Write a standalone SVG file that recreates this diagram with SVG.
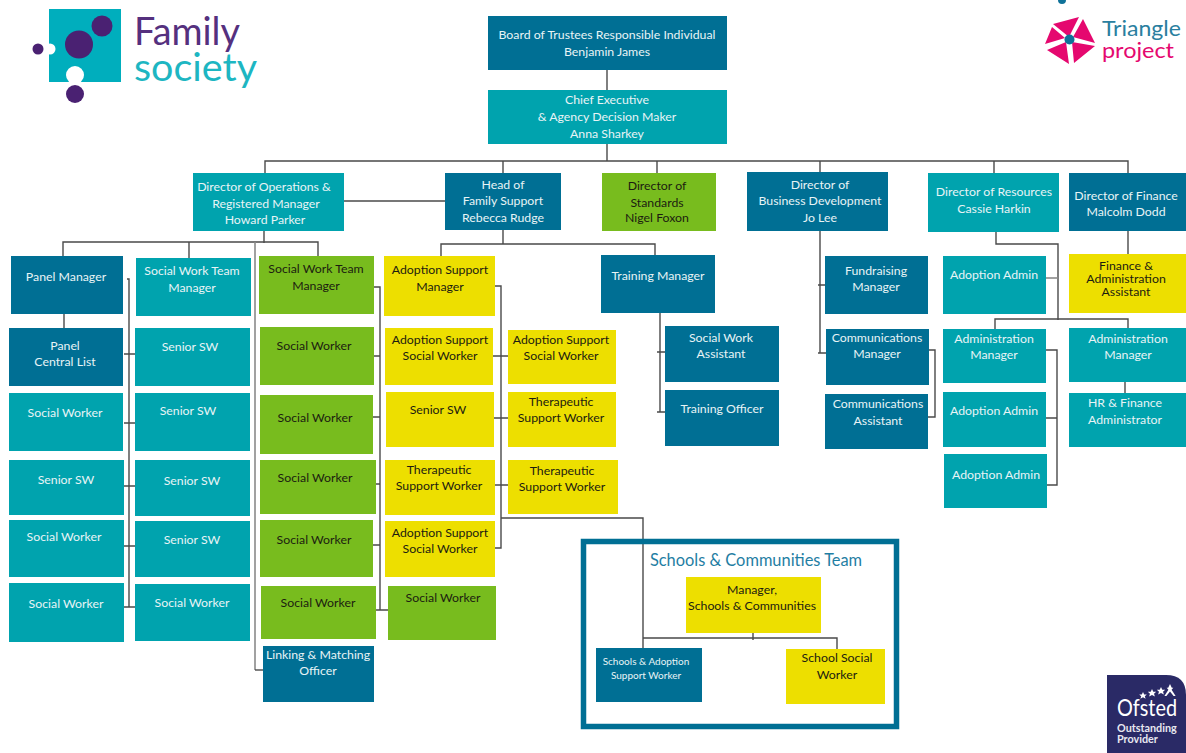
<svg xmlns="http://www.w3.org/2000/svg" width="1186" height="753" viewBox="0 0 1186 753">
<style>
text{font-family:Lato,"Open Sans","Liberation Sans",sans-serif;font-size:12.3px;text-anchor:middle;transform:translateY(-.5px)}
.d rect{fill:#006f94}.t rect{fill:#00a3ae}.g rect{fill:#78bc1e}.y rect{fill:#eddf00}
.d text,.t text{fill:#e8f4f6}.g text,.y text{fill:#1c1c10}
#connectors path{fill:none;stroke:#4a4a4a;stroke-width:1.4}
#connectors path.l{stroke:#8a8a8a;stroke-width:1.6}
</style>
<rect width="1186" height="753" fill="#fff"/>
<g id="family-logo">
<rect x="49" y="9" width="72" height="73" fill="#00aebd"/>
<circle cx="50" cy="49" r="5.5" fill="#fff"/><circle cx="38" cy="49" r="5.5" fill="#4a2172"/>
<circle cx="79" cy="44.500" r="14" fill="#4a2172"/><circle cx="102" cy="26" r="10.500" fill="#4a2172"/>
<circle cx="75" cy="75" r="9" fill="#fff"/><circle cx="75" cy="94" r="9" fill="#4a2172"/>
<text x="134" y="45" textLength="106" lengthAdjust="spacingAndGlyphs" style="font-size:38px;text-anchor:start;fill:#55307e">Family</text>
<text x="134" y="81" textLength="123" lengthAdjust="spacingAndGlyphs" style="font-size:38px;text-anchor:start;fill:#1db6c2">society</text>
</g>
<g id="triangle-logo">
<circle cx="1062" cy="0" r="4" fill="#0f7299"/>
<path d="M1053 24L1079 17L1069 37ZM1083 19L1095 43L1073 37ZM1095 46L1074 63L1072 42ZM1069 64L1047 50L1066 42ZM1045 44L1052 27L1065 38Z" fill="#e5086f"/>
<circle cx="1069.500" cy="39.500" r="5" fill="#0f7299"/>
<text x="1102" y="36" textLength="79" lengthAdjust="spacingAndGlyphs" style="font-size:22px;text-anchor:start;fill:#2a7fa0">Triangle</text>
<text x="1102" y="58" textLength="72" lengthAdjust="spacingAndGlyphs" style="font-size:22px;text-anchor:start;fill:#e5086f">project</text>
</g>
<g id="ofsted-logo">
<path d="M1107 675H1166Q1186 675 1186 695V753H1107Z" fill="#2a2a66"/>
<path d="M1143 692l1.200 2.400h2.600l-2 1.800l.8 2.600l-2.600-1.500l-2.600 1.500l.8-2.600l-2-1.800h2.600ZM1152 689l1.300 2.700h2.900l-2.200 2l.9 2.900l-2.900-1.700l-2.900 1.700l.9-2.900l-2.200-2h2.900ZM1161 687l1.300 2.700h2.900l-2.200 2l.9 2.900l-2.900-1.700l-2.900 1.700l.9-2.900l-2.200-2h2.900ZM1170 684l1.800 3.800h1.500l-1.700 2l4 6.200h-2l-3.600-4.600l-3.600 4.600h-2l4-6.200l-1.700-2h1.500Z" fill="#fff"/>
<text x="1117" y="716" textLength="60" lengthAdjust="spacingAndGlyphs" style="font-size:24px;text-anchor:start;fill:#fff">Ofsted</text>
<text x="1117" y="732" style="font-size:10.800px;font-weight:700;text-anchor:start;fill:#e8e8f0">Outstanding</text>
<text x="1117" y="743" style="font-size:10.800px;font-weight:700;text-anchor:start;fill:#e8e8f0">Provider</text>
</g>
<g id="connectors">
<path d="M607 70V90M607 144V161M265 173V161H1128V173M503 161V173M657 161V173M820 161V172M994 161V173"/>
<path d="M344 201H445"/>
<path d="M264 231V243M63 256V242H318V256M189 242V258M64 314V328"/>
<path class="l" d="M255 242V670"/><path d="M255 670H263"/>
<path d="M127 279H129V607M124 354H135M124 423H135M124 486H135M124 546H135M124 607H135"/>
<path d="M374 287H380V610M374 356H380M373 417H380M376 484H380M373 545H380M376 610H388"/>
<path d="M495 286H501V548H495M493 356H508M494 418H508M495 485H508"/>
<path d="M501 518H643V648M643 638H837V649M753 633V640"/>
<path d="M503 230V244M441 256V244H655V255M660 313V412M657 352H665M657 412H665"/>
<path d="M820 231V353M818 285H825M818 353H826M929 350H935V417H928"/>
<path d="M996 232V244H1058V320M995 329V319H1128V328"/><path class="l" d="M1046 278H1058"/>
<path d="M1046 350H1057V485H1047M1046 418H1057M1125 382V393M1128 231V254"/>
</g>
<g id="schools-team">
<rect x="583.500" y="541.500" width="313" height="185" fill="none" stroke="#006f94" stroke-width="5.500"/>
<text x="756" y="566" style="font-size:16.400px;fill:#1f7ea3">Schools &amp; Communities Team</text>
</g>
<g id="board" class="d"><rect x="488" y="16" width="239" height="54"/><text x="607" y="39">Board of Trustees Responsible Individual</text><text x="607" y="56">Benjamin James</text></g>
<g id="ceo" class="t"><rect x="488" y="90" width="239" height="54"/><text x="607" y="104">Chief Executive</text><text x="607" y="121">&amp; Agency Decision Maker</text><text x="607" y="138">Anna Sharkey</text></g>
<g id="dir-ops" class="t"><rect x="193" y="173" width="151" height="58"/><text x="264" y="191">Director of Operations &amp;</text><text x="266" y="208">Registered Manager</text><text x="265" y="224">Howard Parker</text></g>
<g id="head-fs" class="d"><rect x="445" y="173" width="116" height="57"/><text x="503" y="189">Head of</text><text x="503" y="205">Family Support</text><text x="503" y="222">Rebecca Rudge</text></g>
<g id="dir-standards" class="g"><rect x="602" y="173" width="114" height="58"/><text x="657" y="190">Director of</text><text x="657" y="207">Standards</text><text x="657" y="222">Nigel Foxon</text></g>
<g id="dir-bus" class="d"><rect x="747" y="172" width="141" height="59"/><text x="820" y="189">Director of</text><text x="820" y="205">Business Development</text><text x="820" y="222">Jo Lee</text></g>
<g id="dir-res" class="t"><rect x="928" y="173" width="131" height="59"/><text x="994" y="196">Director of Resources</text><text x="994" y="213">Cassie Harkin</text></g>
<g id="dir-fin" class="d"><rect x="1069" y="173" width="117" height="58"/><text x="1126" y="200">Director of Finance</text><text x="1126" y="216">Malcolm Dodd</text></g>
<g id="panel-mgr" class="d"><rect x="11" y="256" width="112" height="58"/><text x="66" y="281">Panel Manager</text></g>
<g id="panel-list" class="d"><rect x="9" y="328" width="114" height="58"/><text x="65" y="350">Panel</text><text x="65" y="366">Central List</text></g>
<g id="sw-a1" class="t"><rect x="9" y="393" width="114" height="58"/><text x="65" y="417">Social Worker</text></g>
<g id="sw-a2" class="t"><rect x="9" y="460" width="115" height="55"/><text x="66" y="484">Senior SW</text></g>
<g id="sw-a3" class="t"><rect x="9" y="520" width="115" height="57"/><text x="64" y="541">Social Worker</text></g>
<g id="sw-a4" class="t"><rect x="9" y="583" width="115" height="59"/><text x="66" y="608">Social Worker</text></g>
<g id="swtm-b" class="t"><rect x="136" y="258" width="115" height="58"/><text x="192" y="275">Social Work Team</text><text x="192" y="292">Manager</text></g>
<g id="sw-b1" class="t"><rect x="135" y="328" width="115" height="58"/><text x="190" y="351">Senior SW</text></g>
<g id="sw-b2" class="t"><rect x="135" y="393" width="115" height="58"/><text x="188" y="415">Senior SW</text></g>
<g id="sw-b3" class="t"><rect x="135" y="460" width="115" height="56"/><text x="192" y="485">Senior SW</text></g>
<g id="sw-b4" class="t"><rect x="135" y="521" width="115" height="56"/><text x="192" y="544">Senior SW</text></g>
<g id="sw-b5" class="t"><rect x="135" y="584" width="115" height="57"/><text x="192" y="607">Social Worker</text></g>
<g id="swtm-c" class="g"><rect x="259" y="256" width="115" height="58"/><text x="316" y="273">Social Work Team</text><text x="316" y="290">Manager</text></g>
<g id="sw-c1" class="g"><rect x="260" y="327" width="114" height="58"/><text x="314" y="350">Social Worker</text></g>
<g id="sw-c2" class="g"><rect x="260" y="395" width="113" height="59"/><text x="315" y="422">Social Worker</text></g>
<g id="sw-c3" class="g"><rect x="260" y="460" width="116" height="54"/><text x="315" y="482">Social Worker</text></g>
<g id="sw-c4" class="g"><rect x="260" y="520" width="113" height="57"/><text x="314" y="544">Social Worker</text></g>
<g id="sw-c5" class="g"><rect x="261" y="586" width="115" height="53"/><text x="318" y="607">Social Worker</text></g>
<g id="linking" class="d"><rect x="263" y="646" width="111" height="56"/><text x="318" y="659">Linking &amp; Matching</text><text x="318" y="675">Officer</text></g>
<g id="asm" class="y"><rect x="384" y="256" width="111" height="60"/><text x="440" y="274">Adoption Support</text><text x="440" y="291">Manager</text></g>
<g id="assw1" class="y"><rect x="385" y="328" width="108" height="57"/><text x="440" y="344">Adoption Support</text><text x="440" y="360">Social Worker</text></g>
<g id="senior-y" class="y"><rect x="386" y="392" width="108" height="55"/><text x="438" y="414">Senior SW</text></g>
<g id="tsw1" class="y"><rect x="385" y="460" width="110" height="55"/><text x="439" y="474">Therapeutic</text><text x="439" y="490">Support Worker</text></g>
<g id="assw3" class="y"><rect x="385" y="521" width="110" height="56"/><text x="440" y="537">Adoption Support</text><text x="440" y="553">Social Worker</text></g>
<g id="sw-d" class="g"><rect x="388" y="586" width="108" height="54"/><text x="443" y="602">Social Worker</text></g>
<g id="assw2" class="y"><rect x="508" y="330" width="108" height="54"/><text x="561" y="344">Adoption Support</text><text x="561" y="360">Social Worker</text></g>
<g id="tsw2" class="y"><rect x="508" y="392" width="108" height="55"/><text x="561" y="406">Therapeutic</text><text x="561" y="422">Support Worker</text></g>
<g id="tsw3" class="y"><rect x="508" y="460" width="110" height="54"/><text x="562" y="475">Therapeutic</text><text x="562" y="491">Support Worker</text></g>
<g id="training-mgr" class="d"><rect x="601" y="255" width="114" height="58"/><text x="658" y="280">Training Manager</text></g>
<g id="sw-assistant" class="d"><rect x="665" y="326" width="114" height="56"/><text x="721" y="342">Social Work</text><text x="721" y="358">Assistant</text></g>
<g id="training-officer" class="d"><rect x="665" y="390" width="114" height="56"/><text x="722" y="413">Training Officer</text></g>
<g id="fundraising" class="d"><rect x="825" y="256" width="103" height="58"/><text x="876" y="275">Fundraising</text><text x="876" y="291">Manager</text></g>
<g id="comms-mgr" class="d"><rect x="826" y="329" width="103" height="56"/><text x="877" y="342">Communications</text><text x="877" y="358">Manager</text></g>
<g id="comms-asst" class="d"><rect x="825" y="394" width="103" height="55"/><text x="878" y="408">Communications</text><text x="878" y="425">Assistant</text></g>
<g id="admin-1" class="t"><rect x="943" y="256" width="103" height="58"/><text x="994" y="279">Adoption Admin</text></g>
<g id="admin-mgr-1" class="t"><rect x="943" y="329" width="103" height="54"/><text x="994" y="343">Administration</text><text x="994" y="359">Manager</text></g>
<g id="admin-2" class="t"><rect x="943" y="392" width="103" height="55"/><text x="994" y="415">Adoption Admin</text></g>
<g id="admin-3" class="t"><rect x="944" y="454" width="103" height="54"/><text x="996" y="479">Adoption Admin</text></g>
<g id="fin-asst" class="y"><rect x="1069" y="254" width="117" height="59"/><text x="1126" y="270">Finance &amp;</text><text x="1126" y="283">Administration</text><text x="1126" y="296">Assistant</text></g>
<g id="admin-mgr-2" class="t"><rect x="1069" y="328" width="117" height="54"/><text x="1128" y="343">Administration</text><text x="1128" y="359">Manager</text></g>
<g id="hr" class="t"><rect x="1069" y="393" width="117" height="54"/><text x="1125" y="407">HR &amp; Finance</text><text x="1125" y="424">Administrator</text></g>
<g id="mgr-schools" class="y"><rect x="686" y="577" width="135" height="56"/><text x="752" y="594">Manager,</text><text x="752" y="610">Schools &amp; Communities</text></g>
<g id="schools-adoption" class="d"><rect x="596" y="648" width="106" height="54"/><text x="646" y="665" style="font-size:10px">Schools &amp; Adoption</text><text x="646" y="679" style="font-size:10px">Support Worker</text></g>
<g id="school-sw" class="y"><rect x="786" y="649" width="99" height="55"/><text x="837" y="662">School Social</text><text x="837" y="679">Worker</text></g>
</svg>
